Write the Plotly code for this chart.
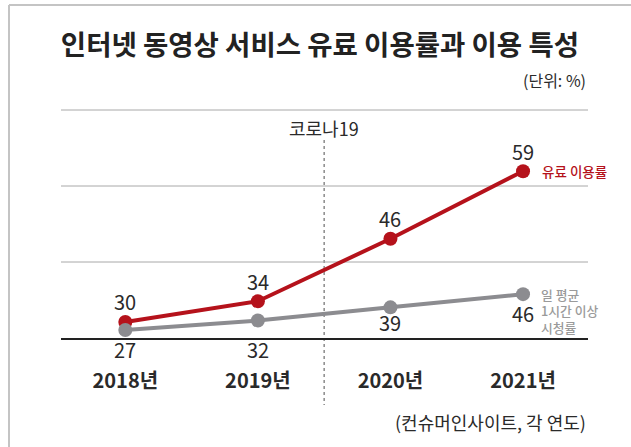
import plotly.graph_objects as go

# ---- data ----
years = ["2018년", "2019년", "2020년", "2021년"]
paid_rate = [30, 34, 46, 59]          # 유료 이용률
watch_rate = [27, 32, 39, 46]         # 일 평균 1시간 이상 시청률
title_text = "인터넷 동영상 서비스 유료 이용률과 이용 특성"
unit_text = "(단위: %)"
source_text = "(컨슈머인사이트, 각 연도)"
event_text = "코로나19"
paid_name = "유료 이용률"
watch_name_lines = ["일 평균", "1시간 이상", "시청률"]

# ---- style ----
FONT = "Noto Sans CJK KR"
RED = "#b5121b"
GRAY = "#8c8c90"
TXT = "#2a2a2a"
W, H = 631, 447
L, R, T, B = 61, 43, 110, 109
PW, PH = W - L - R, H - T - B
y1_range = [26.92, 70.77]
y2_range = [22.72, 143.8]
gray_label_shift = [-20, -29, -15, -19]
red_label_shift = 20


def py(px):
    return (H - B - px) / PH


def pxx(px):
    return (px - L) / PW


x = list(range(len(years)))

fig = go.Figure()
fig.add_trace(go.Scatter(
    x=x, y=watch_rate, yaxis="y2", mode="lines+markers",
    line=dict(color=GRAY, width=4), marker=dict(color=GRAY, size=14),
    hoverinfo="skip", cliponaxis=False, showlegend=False))
fig.add_trace(go.Scatter(
    x=x, y=paid_rate, mode="lines+markers",
    line=dict(color=RED, width=4), marker=dict(color=RED, size=14),
    hoverinfo="skip", cliponaxis=False, showlegend=False))

ann = []
for i, v in enumerate(paid_rate):
    ann.append(dict(x=i, y=v, xref="x", yref="y", text=str(v), showarrow=False,
                    yshift=red_label_shift, yanchor="middle",
                    font=dict(family=FONT, size=20, color=TXT)))
for i, v in enumerate(watch_rate):
    ann.append(dict(x=i, y=v, xref="x", yref="y2", text=str(v), showarrow=False,
                    yshift=gray_label_shift[i], yanchor="middle",
                    font=dict(family=FONT, size=20, color=TXT)))
ann.append(dict(x=len(years) - 1, y=paid_rate[-1], xref="x", yref="y", text=paid_name,
                showarrow=False, xanchor="left", yanchor="middle", xshift=17,
                font=dict(family=FONT, size=13.5, color=RED, weight=500)))
for k, line in enumerate(watch_name_lines):
    ann.append(dict(x=len(years) - 1, y=watch_rate[-1], xref="x", yref="y2", text=line,
                    showarrow=False, xanchor="left", yanchor="middle", borderpad=0,
                    yshift=0 - 16.5 * k, xshift=17, align="left",
                    font=dict(family=FONT, size=12.8, color="#9a9a9a", weight=500)))
ann.append(dict(x=1.5, y=py(128), xref="x", yref="paper", text=event_text,
                showarrow=False, xanchor="center", yanchor="middle",
                font=dict(family=FONT, size=18, color=TXT)))
ann.append(dict(x=1, y=py(80), xref="paper", yref="paper", text=unit_text,
                showarrow=False, xanchor="right", yanchor="middle",
                font=dict(family=FONT, size=16, color=TXT)))
ann.append(dict(x=1, y=py(422), xref="paper", yref="paper", text=source_text,
                showarrow=False, xanchor="right", yanchor="middle",
                font=dict(family=FONT, size=18, color=TXT)))

shapes = [
    dict(type="line", xref="x", yref="paper", x0=1.5, x1=1.5,
         y0=py(140), y1=py(405),
         line=dict(color="#8a8a8a", width=1.5, dash="dot"), layer="below"),
    dict(type="line", xref="paper", yref="paper",
         x0=pxx(9), x1=pxx(W), y0=py(5), y1=py(5),
         line=dict(color="#c4c4c4", width=2)),
    dict(type="line", xref="paper", yref="paper",
         x0=pxx(9), x1=pxx(9), y0=py(5), y1=py(H),
         line=dict(color="#c4c4c4", width=2)),
]
for gy in (1 / 3, 2 / 3, 1.0):
    shapes.append(dict(type="line", xref="paper", yref="paper", x0=0, x1=1, y0=gy, y1=gy,
                       line=dict(color="#a8a8a8", width=1), layer="below"))

fig.update_layout(
    width=W, height=H,
    margin=dict(l=L, r=R, t=T, b=B),
    paper_bgcolor="white", plot_bgcolor="white",
    title=dict(text=title_text, x=0.507, xanchor="center", y=1 - 45 / H, yanchor="middle",
               font=dict(family=FONT, size=27.5, color="#222", weight=600)),
    xaxis=dict(range=[-0.485, 3.49], tickvals=x, ticktext=years, showgrid=False,
               zeroline=False, showline=True, linecolor="#222", linewidth=1.5,
               ticks="", ticklabelstandoff=24,
               tickfont=dict(family=FONT, size=20, color=TXT, weight=600)),
    yaxis=dict(range=y1_range, showgrid=False, zeroline=False, showticklabels=False,
               ticks=""),
    yaxis2=dict(range=y2_range, overlaying="y", showgrid=False, zeroline=False,
                showticklabels=False, ticks=""),
    annotations=ann, shapes=shapes,
)

fig.write_html("out.html", config={"displayModeBar": False},
               post_script="document.body.style.margin='0';")
